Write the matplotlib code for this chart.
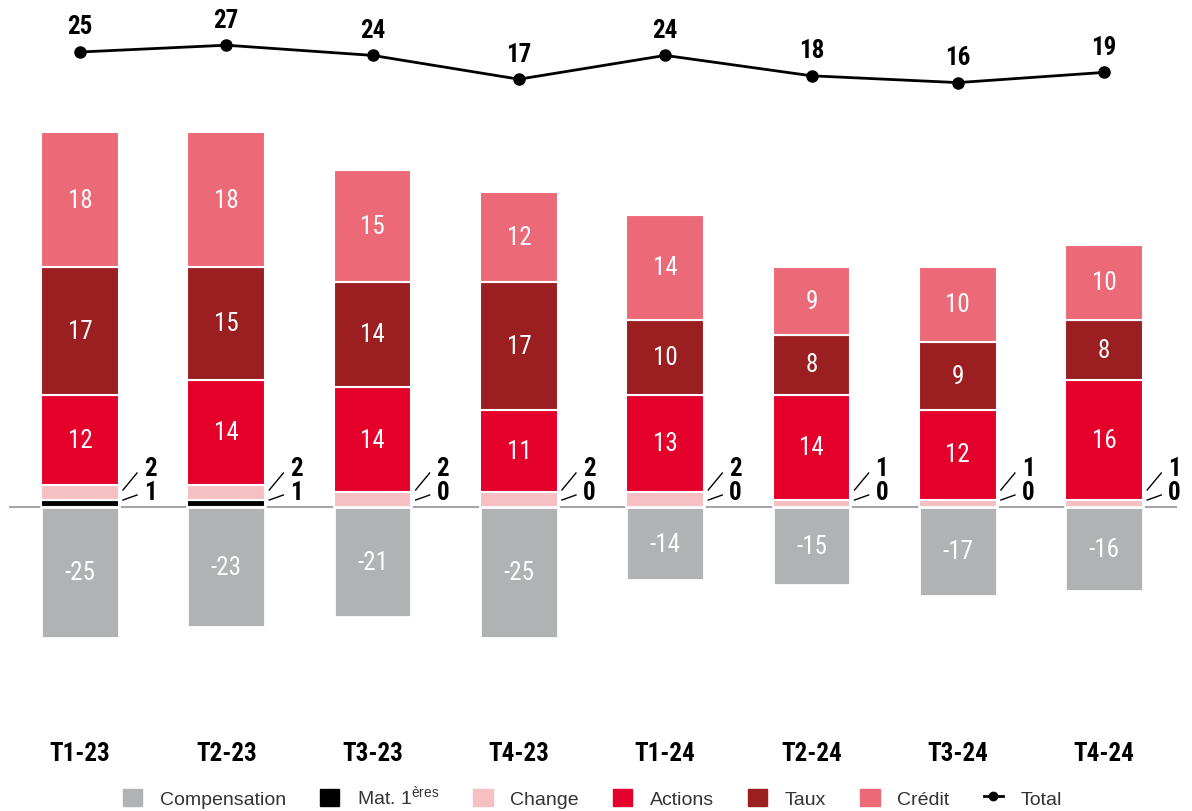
import numpy as np
import matplotlib.pyplot as plt
from matplotlib import font_manager
from matplotlib.patches import Patch
from matplotlib.lines import Line2D

# data
cats = ['T1-23', 'T2-23', 'T3-23', 'T4-23', 'T1-24', 'T2-24', 'T3-24', 'T4-24']
compensation = [-25, -23, -21, -25, -14, -15, -17, -16]
mat = [1, 1, 0, 0, 0, 0, 0, 0]
change = [2, 2, 2, 2, 2, 1, 1, 1]
actions = [12, 14, 14, 11, 13, 14, 12, 16]
taux = [17, 15, 14, 17, 10, 8, 9, 8]
credit = [18, 18, 15, 12, 14, 9, 10, 10]
total = [25, 27, 24, 17, 24, 18, 16, 19]

c_comp = '#b1b2b4'
c_mat = '#000000'
c_change = '#f6c0c3'
c_actions = '#e4002b'
c_taux = '#9b1f21'
c_credit = '#ec6a78'

# look for a narrow font, fall back to plain sans
names = {f.name for f in font_manager.fontManager.ttflist}
cond_name = 'DejaVu Sans'
for n in ['Roboto Condensed', 'Liberation Sans Narrow', 'Open Sans Condensed',
          'Noto Sans Condensed']:
    if n in names:
        cond_name = n
        break
cond = [cond_name, 'DejaVu Sans']
plt.rcParams['font.family'] = ['Liberation Sans', 'DejaVu Sans']

fig = plt.figure(figsize=(11.92, 8.12), dpi=100)
ax = fig.add_axes([0.0057, 112 / 812, 0.982, 700 / 812])
ax_neg = ax.twinx()
ax_tot = ax.twinx()

x = np.arange(len(cats))
w = 0.53
z = 508  # pixel row of zero line from the top of the axes
fs = 18

# positive stacks
bottom = np.zeros(len(cats))
for vals, col in [(mat, c_mat), (change, c_change), (actions, c_actions),
                  (taux, c_taux), (credit, c_credit)]:
    vals = np.array(vals)
    ax.bar(x, vals, w, bottom=bottom, color=col, edgecolor='white', linewidth=1.5)
    if col in (c_actions, c_taux, c_credit):
        for xi, b, v in zip(x, bottom, vals):
            ax.text(xi, b + v / 2, str(v), ha='center', va='center',
                    color='white', fontsize=fs, family=cond)
    bottom = bottom + vals

# small values shown beside the bar
for xi, ch, m in zip(x, change, mat):
    ax.plot([xi + 0.294, xi + 0.39], [2.27, 4.53], color='black', lw=1)
    ax.plot([xi + 0.294, xi + 0.39], [0.93, 1.6], color='black', lw=1)
    ax.text(xi + 0.48, 5.2, str(ch), ha='center', va='center', fontsize=fs,
            fontweight='bold', family=cond)
    ax.text(xi + 0.48, 2.0, str(m), ha='center', va='center', fontsize=fs,
            fontweight='bold', family=cond)

ax.axhline(0, color='#a6a6a6', lw=1.5, xmin=0.003, xmax=1.0)

# compensation on its own (compressed) scale
ax_neg.bar(x, compensation, w, color=c_comp, edgecolor='white', linewidth=2)
for xi, v in zip(x, compensation):
    ax_neg.text(xi, v / 2, str(v), ha='center', va='center', color='white',
                fontsize=fs, family=cond)

# total line
ax_tot.plot(x, total, color='black', lw=2, marker='o', markersize=8)
for xi, v in zip(x, total):
    ax_tot.text(xi, v + 7.5, str(v), ha='center', va='center', fontsize=fs,
                fontweight='bold', family=cond)

ax.set_xlim(-0.5, 7.5)
ax.set_ylim(-(700 - z) / 7.5, z / 7.5)
ax_neg.set_ylim(-(700 - z) / 5.22, z / 5.22)
ax_tot.set_ylim((138 - 700) / 3.4, 138 / 3.4)

for a in (ax, ax_neg, ax_tot):
    for s in a.spines.values():
        s.set_visible(False)
    a.set_yticks([])
ax.set_xticks(x)
ax.set_xticklabels(cats, fontsize=fs, fontweight='bold', family=cond)
ax.tick_params(axis='x', length=0, pad=30)

handles = [
    Patch(color=c_comp, label='Compensation'),
    Patch(color=c_mat, label='Mat. 1$^{\\mathregular{ères}}$'),
    Patch(color=c_change, label='Change'),
    Patch(color=c_actions, label='Actions'),
    Patch(color=c_taux, label='Taux'),
    Patch(color=c_credit, label='Crédit'),
    Line2D([], [], color='black', lw=2, marker='o', markersize=6, label='Total'),
]
leg = fig.legend(handles=handles, loc='lower center', ncol=7, frameon=False,
                 bbox_to_anchor=(0.497, -0.018), fontsize=14, handlelength=1.0,
                 handleheight=1.0, columnspacing=1.75, handletextpad=0.9)
for t in leg.get_texts():
    t.set_color('#333333')

fig.savefig('out.png', dpi=100)
